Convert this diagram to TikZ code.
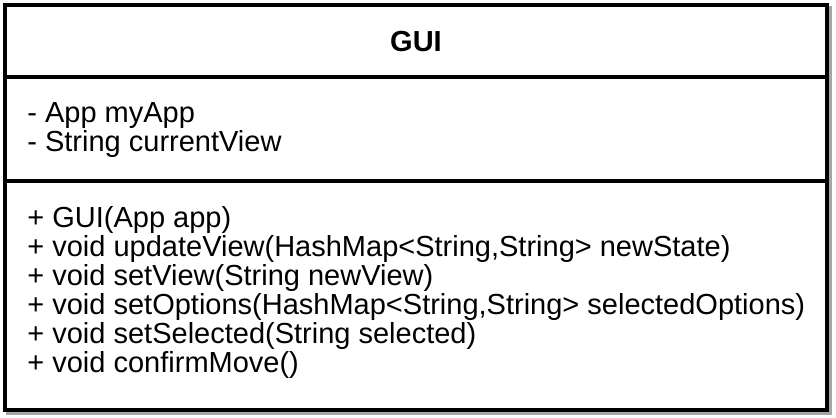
\documentclass[tikz,border=0pt]{standalone}
\usepackage{fontspec}
\setmainfont{Liberation Sans}
\usetikzlibrary{positioning}

\tikzset{
  umlline/.style={line width=2pt, black},
  member/.style={anchor=base west, inner sep=0pt, font=\fontsize{14.5}{14.5}\selectfont}
}

\begin{document}
\begin{tikzpicture}[x=0.5pt, y=-0.5pt]
  \useasboundingbox (0,0) rectangle (836,418);
  \fill[white] (0,0) rectangle (836,418);

  % Shadow
  \draw[line width=2pt, black!35] (8,8) rectangle (830,413);

  % Class box
  \draw[umlline, fill=white] (5,5) rectangle (827,410);
  \coordinate (headsep) at (5,77);
  \coordinate (attrsep) at (5,181);
  \draw[umlline] (headsep) -- ++(822,0);
  \draw[umlline] (attrsep) -- ++(822,0);

  % Name
  \node[font=\fontsize{14.5}{14.5}\selectfont\bfseries] (name) at (416,42) {GUI};

  % Attributes
  \node[member] (a1) at (27,122) {- App myApp};
  \node[member] (a2) at (27,151) {- String currentView};

  % Operations
  \foreach \txt [count=\i] in {%
      {+ GUI(App app)},
      {+ void updateView(HashMap<String,String> newState)},
      {+ void setView(String newView)},
      {+ void setOptions(HashMap<String,String> selectedOptions)},
      {+ void setSelected(String selected)},
      {+ void confirmMove()}}
    \node[member] (m\i) at (27,198+29*\i) {\txt};
\end{tikzpicture}
\end{document}
